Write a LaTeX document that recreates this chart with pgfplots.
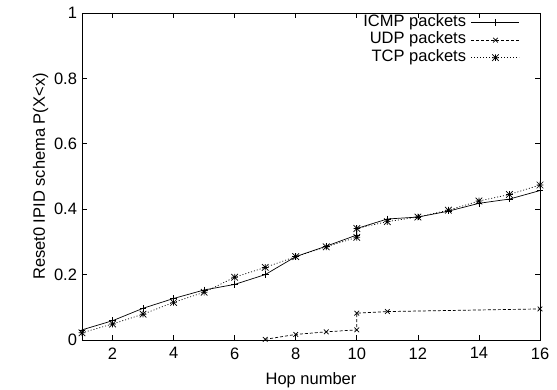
\documentclass[border=0pt]{standalone}
\usepackage{pgfplots}
\pgfplotsset{compat=1.18}
\usepackage{fontspec}
\setmainfont{Liberation Sans}
\pgfdeclareplotmark{gpstar}{%
  \pgfpathmoveto{\pgfqpoint{-\pgfplotmarksize}{0pt}}\pgfpathlineto{\pgfqpoint{\pgfplotmarksize}{0pt}}%
  \pgfpathmoveto{\pgfqpoint{0pt}{-\pgfplotmarksize}}\pgfpathlineto{\pgfqpoint{0pt}{\pgfplotmarksize}}%
  \pgfpathmoveto{\pgfqpoint{-\pgfplotmarksize}{-\pgfplotmarksize}}\pgfpathlineto{\pgfqpoint{\pgfplotmarksize}{\pgfplotmarksize}}%
  \pgfpathmoveto{\pgfqpoint{-\pgfplotmarksize}{\pgfplotmarksize}}\pgfpathlineto{\pgfqpoint{\pgfplotmarksize}{-\pgfplotmarksize}}%
  \pgfusepathqstroke}
\begin{document}
\begin{tikzpicture}
\begin{axis}[
  scale only axis, width=458bp, height=327bp,
  xmin=1, xmax=16, ymin=0, ymax=1,
  xtick={2,4,...,16}, ytick={0,0.2,0.4,0.6,0.8,1},
  tick align=inside, major tick length=5bp,
  tick style={black, line width=0.7bp},
  axis line style={line width=0.9bp},
  /pgf/number format/assume math mode=true,
  ticklabel style={font=\fontsize{16.5bp}{19bp}\selectfont},
  xticklabel style={yshift=-4bp},
  yticklabel style={xshift=-1.5bp},
  label style={font=\fontsize{16.5bp}{19bp}\selectfont},
  xlabel={Hop number}, ylabel={Reset0 IPID schema P(X<x)},
  xlabel style={yshift=-6bp}, ylabel style={yshift=-1bp},
  legend style={draw=none, fill=none, at={(1,1)}, anchor=north east, xshift=-20bp, yshift=-1bp,
    font=\fontsize{16.5bp}{19bp}\selectfont, row sep=0.5bp, inner sep=0pt,
    nodes={inner sep=0pt, text height=12bp, text depth=5bp}},
  legend cell align=right, legend plot pos=right,
  legend image code/.code={\path (0bp,0bp); \draw[mark repeat=2, mark phase=2] plot coordinates {(5bp,0bp) (29bp,0bp) (53bp,0bp)};},
  every axis plot/.append style={black, line width=0.7bp, mark size=3.3bp, mark options={solid}},
]
\addplot[mark=+] coordinates {
 (1,0.031) (2,0.059) (3,0.097) (4,0.127) (5,0.153) (6,0.170) (7,0.200) (8,0.255) (9,0.287)
 (10,0.321) (10,0.341) (11,0.370) (12,0.376) (13,0.394) (14,0.418) (15,0.431) (16,0.457)};
\addlegendentry{ICMP packets}
\addplot[mark=x, dash pattern=on 3bp off 2bp] coordinates {
 (7,0.002) (8,0.017) (9,0.025) (10,0.031) (10,0.082) (11,0.087) (16,0.095)};
\addlegendentry{UDP packets}
\addplot[mark=gpstar, dash pattern=on 1bp off 2bp] coordinates {
 (1,0.022) (2,0.049) (3,0.079) (4,0.115) (5,0.146) (6,0.192) (7,0.222) (8,0.255) (9,0.285)
 (10,0.314) (10,0.341) (11,0.362) (12,0.376) (13,0.397) (14,0.425) (15,0.445) (16,0.474)};
\addlegendentry{TCP packets}
\end{axis}
\pgfresetboundingbox
\path[use as bounding box] ([shift={(-82bp,-50bp)}]current axis.south west) rectangle ([shift={(17bp,13bp)}]current axis.north east);
\end{tikzpicture}
\end{document}
